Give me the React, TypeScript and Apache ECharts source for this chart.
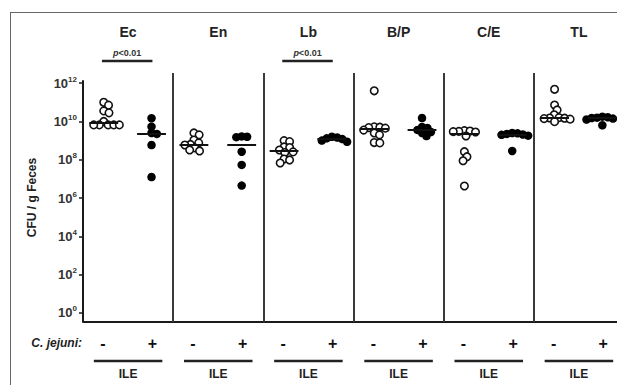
import React, { useEffect, useRef } from "react";
import * as echarts from "echarts";

// ---- data (log10 CFU / g feces) ----
const panels = ["Ec", "En", "Lb", "B/P", "C/E", "TL"];
const groupLabels = ["-", "+"];
const regionLabel = "ILE";
const infectionLabel = "C. jejuni:";
const yTitle = "CFU / g Feces";
const yTickExponents = [0, 2, 4, 6, 8, 10, 12];
const significantPanels = ["Ec", "Lb"];
const pValueText = "<0.01";

// uninfected (open circles)
const ecNeg = [11.0, 10.85, 10.55, 10.45, 10.0, 9.82, 9.82, 9.82, 9.82, 9.82];
const enNeg = [9.4, 9.3, 9.03, 8.88, 8.8, 8.77, 8.62, 8.51, 8.46];
const lbNeg = [9.0, 8.95, 8.67, 8.64, 8.51, 8.41, 8.38, 8.04, 7.99, 7.83];
const bpNeg = [11.6, 9.72, 9.7, 9.68, 9.65, 9.55, 9.4, 9.3, 8.9, 8.88];
const ceNeg = [9.52, 9.5, 9.48, 9.47, 9.45, 9.24, 8.42, 8.16, 7.95, 6.63];
const tlNeg = [11.68, 10.86, 10.6, 10.35, 10.2, 10.18, 10.17, 10.15, 10.12, 9.99];

// C. jejuni infected (filled circles)
const ecPos = [10.17, 9.73, 9.4, 9.35, 8.77, 7.1];
const enPos = [9.22, 9.2, 9.18, 8.42, 7.73, 6.65];
const lbPos = [9.2, 9.16, 9.12, 9.08, 9.0, 8.94];
const bpPos = [10.18, 9.71, 9.66, 9.56, 9.45, 9.4, 9.24];
const cePos = [9.4, 9.38, 9.35, 9.32, 9.3, 9.26, 8.46];
const tlPos = [10.25, 10.22, 10.2, 10.18, 10.15, 10.1, 9.8];

const negGroups = [ecNeg, enNeg, lbNeg, bpNeg, ceNeg, tlNeg];
const posGroups = [ecPos, enPos, lbPos, bpPos, cePos, tlPos];

// ---- layout constants ----
const Y_MIN = -0.47;
const Y_MAX = 12.53;
const NEG_POS = 0.23;
const POS_POS = 0.76;
const FONT = "'Liberation Sans', Arial, Helvetica, sans-serif";
const INK = "#1a1a1a";

function median(vals: number[]): number {
  const s = [...vals].sort((a, b) => a - b);
  const n = s.length;
  return n % 2 ? s[(n - 1) / 2] : (s[n / 2 - 1] + s[n / 2]) / 2;
}

// beeswarm offsets (returned in x-axis units)
function swarm(vals: number[], minDist: number, pxX: number, pxY: number): number[] {
  const order = vals.map((_, i) => i).sort((a, b) => vals[b] - vals[a]);
  const placed: { x: number; y: number }[] = [];
  const offs = new Array(vals.length).fill(0);
  for (const i of order) {
    const y = vals[i] * pxY;
    const cands = [0];
    const intervals: [number, number][] = [];
    for (const p of placed) {
      const dy = Math.abs(p.y - y);
      if (dy < minDist) {
        const w = Math.sqrt(minDist * minDist - dy * dy);
        intervals.push([p.x - w, p.x + w]);
        cands.push(p.x + w, p.x - w);
      }
    }
    cands.sort((a, b) => Math.abs(a) - Math.abs(b));
    let x = 0;
    for (const c of cands) {
      if (intervals.every(([a, b]) => c <= a + 1e-6 || c >= b - 1e-6)) {
        x = c;
        break;
      }
    }
    placed.push({ x, y });
    offs[i] = x / pxX;
  }
  return offs;
}

export default function App() {
  const ref = useRef<HTMLDivElement>(null);
  useEffect(() => {
    if (!ref.current) return;
    const chart = echarts.init(ref.current, null, { renderer: "svg" });

    const dividerData: any[] = [];
    for (let i = 1; i < panels.length; i++) {
      dividerData.push([{ coord: [i, Y_MIN] }, { coord: [i, Y_MAX] }]);
    }

    const base: any = {
      animation: false,
      backgroundColor: "#fff",
      grid: {
        left: 83,
        top: 73,
        width: 541,
        height: 249,
        outerBoundsMode: "none",
        containLabel: false,
      },
      xAxis: {
        type: "value",
        min: 0,
        max: panels.length,
        axisLine: { show: true, onZero: false, lineStyle: { color: INK, width: 2 } },
        axisTick: { show: false },
        axisLabel: { show: false },
        splitLine: { show: false },
      },
      yAxis: {
        type: "value",
        min: Y_MIN,
        max: Y_MAX,
        axisLine: { show: false },
        axisTick: {
          show: true,
          customValues: yTickExponents,
          length: 4,
          lineStyle: { color: INK, width: 1.5 },
        },
        axisLabel: {
          show: true,
          customValues: yTickExponents,
          margin: 6,
          formatter: (v: number) => `{b|10}{s|${v}}`,
          rich: {
            b: { fontSize: 13, fontWeight: "bold", color: "#333", fontFamily: FONT, lineHeight: 16 },
            s: {
              fontSize: 8,
              fontWeight: "bold",
              color: "#333",
              fontFamily: FONT,
              verticalAlign: "top",
              lineHeight: 8,
              padding: [0, 0, 6, 0],
            },
          },
        },
        splitLine: { show: false },
        name: yTitle,
        nameLocation: "middle",
        nameGap: 45,
        nameTextStyle: { fontSize: 12, fontWeight: "bold", color: "#222", fontFamily: FONT },
      },
      series: [
        {
          type: "scatter",
          data: [],
          silent: true,
          markLine: {
            silent: true,
            symbol: "none",
            label: { show: false },
            lineStyle: { color: "#3a3a3a", width: 2, type: "solid" },
            data: [
              ...dividerData,
              [
                { coord: [0, Y_MIN], lineStyle: { color: INK, width: 2 } },
                { coord: [0, 12.15] },
              ],
            ],
          },
        },
      ],
    };
    chart.setOption(base);

    const toPx = (x: number, y: number) =>
      chart.convertToPixel({ gridIndex: 0 }, [x, y]) as number[];
    const pxX = toPx(1, 0)[0] - toPx(0, 0)[0];
    const pxY = toPx(0, 0)[1] - toPx(0, 1)[1];

    const series: any[] = [base.series[0]];
    const halfMed = 0.16;
    panels.forEach((_, i) => {
      const groups = [
        { vals: negGroups[i], c: i + NEG_POS, open: true },
        { vals: posGroups[i], c: i + POS_POS, open: false },
      ];
      groups.forEach((g) => {
        const offs = swarm(g.vals, g.open ? 5.6 : 5.4, pxX, pxY);
        const med = median(g.vals);
        series.push({
          type: "scatter",
          silent: true,
          symbol: "circle",
          symbolSize: g.open ? 7.5 : 8.5,
          itemStyle: g.open
            ? { color: "#fff", borderColor: "#111", borderWidth: 1.6, opacity: 1 }
            : { color: "#000", borderColor: "#000", borderWidth: 0, opacity: 1 },
          data: g.vals.map((v, k) => [g.c + offs[k], v]),
          markLine: {
            silent: true,
            symbol: "none",
            label: { show: false },
            lineStyle: { color: "#111", width: 2, type: "solid" },
            data: [[{ coord: [g.c - halfMed, med] }, { coord: [g.c + halfMed, med] }]],
          },
        });
      });
    });

    const graphic: any[] = [
      // outer frame
      { type: "line", shape: { x1: 10, y1: 12.5, x2: 617, y2: 12.5 }, style: { stroke: "#666", lineWidth: 1 } },
      { type: "line", shape: { x1: 10.5, y1: 12, x2: 10.5, y2: 385 }, style: { stroke: "#666", lineWidth: 1 } },
      {
        type: "text",
        x: 82,
        y: 343,
        style: {
          text: infectionLabel,
          fontSize: 12,
          fontWeight: "bold",
          fontStyle: "italic",
          fontFamily: FONT,
          fill: "#222",
          align: "right",
          verticalAlign: "middle",
        },
      },
    ];
    panels.forEach((name, i) => {
      const cx = toPx(i + 0.5, 0)[0];
      graphic.push({
        type: "text",
        x: cx,
        y: 32,
        style: {
          text: name,
          fontSize: 14,
          fontWeight: "bold",
          fontFamily: FONT,
          fill: "#222",
          align: "center",
          verticalAlign: "middle",
        },
      });
      if (significantPanels.includes(name)) {
        const x1 = toPx(i + 0.21, 0)[0];
        const x2 = toPx(i + 0.77, 0)[0];
        graphic.push({
          type: "text",
          x: (x1 + x2) / 2,
          y: 53,
          style: {
            text: `{i|p}{n|${pValueText}}`,
            align: "center",
            verticalAlign: "middle",
            rich: {
              i: { fontSize: 9, fontStyle: "italic", fontWeight: "bold", fontFamily: FONT, fill: "#333" },
              n: { fontSize: 9, fontWeight: "bold", fontFamily: FONT, fill: "#333" },
            },
          },
        });
        graphic.push({
          type: "line",
          shape: { x1, y1: 61, x2, y2: 61 },
          style: { stroke: "#222", lineWidth: 2.5 },
        });
      }
      [i + NEG_POS - 0.01, i + POS_POS + 0.01].forEach((gx, k) => {
        graphic.push({
          type: "text",
          x: toPx(gx, 0)[0],
          y: 343,
          style: {
            text: groupLabels[k],
            fontSize: 16,
            fontWeight: "bold",
            fontFamily: FONT,
            fill: "#111",
            align: "center",
            verticalAlign: "middle",
          },
        });
      });
      const u1 = toPx(i + 0.12, 0)[0];
      const u2 = toPx(i + 0.88, 0)[0];
      graphic.push({
        type: "line",
        shape: { x1: u1, y1: 361, x2: u2, y2: 361 },
        style: { stroke: "#222", lineWidth: 2.5 },
      });
      graphic.push({
        type: "text",
        x: cx,
        y: 374,
        style: {
          text: regionLabel,
          fontSize: 12,
          fontWeight: "bold",
          fontFamily: FONT,
          fill: "#222",
          align: "center",
          verticalAlign: "middle",
        },
      });
    });

    chart.setOption({ series, graphic });
    return () => chart.dispose();
  }, []);

  return (
    <div
      ref={ref}
      style={{ position: "fixed", left: 0, top: 0, width: 617, height: 385, background: "#fff" }}
    />
  );
}
